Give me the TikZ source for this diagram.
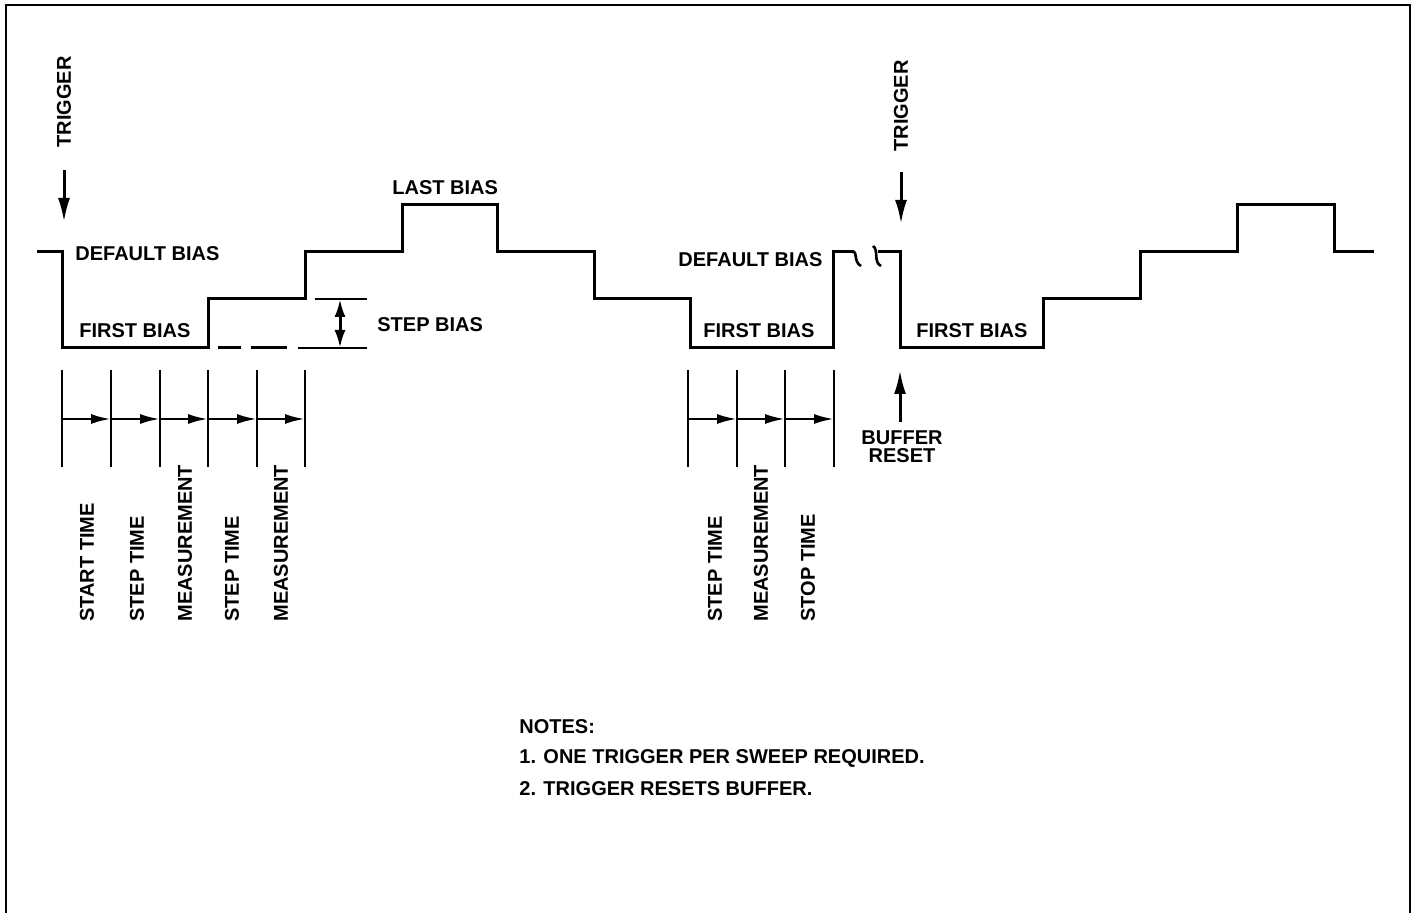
\documentclass[tikz,border=0pt]{standalone}
\usepackage{fontspec}
\setmainfont{Liberation Sans}
\usetikzlibrary{arrows.meta}
\begin{document}
\begin{tikzpicture}[x=0.5pt,y=-0.5pt,
  wave/.style={line width=1.5pt,line join=miter},
  tick/.style={line width=1.1pt},
  tl/.style={line width=1.3pt,-{Latex[length=10pt,width=5pt]}},
  trig/.style={line width=1.5pt,-{Latex[length=12pt,width=6pt]}},
  lbl/.style={font=\bfseries\fontsize{10}{11}\selectfont,inner sep=0pt},
  vlbl/.style={lbl,rotate=90,anchor=west},
  brk/.style={line width=1.3pt},
  frame/.style={line width=1pt}]
\useasboundingbox (0,0) rectangle (1417,913);
% frame
\draw[frame] (6,913) -- (6,5) -- (1410,5) -- (1410,913);
% waveform 1
\draw[wave] (37,252) -- (62,252) -- (62,348) -- (208,348) -- (208,299) -- (305,299)
  -- (305,252) -- (402,252) -- (402,205) -- (497,205) -- (497,252) -- (594,252)
  -- (594,299) -- (690,299) -- (690,348) -- (833,348) -- (833,252) -- (854,252);
% break symbol
\draw[brk] (852,252) .. controls (858,250) and (853,262) .. (861,266);
\draw[brk] (873,246) .. controls (879,250) and (873,262) .. (881,266);
\draw[wave] (878,252) -- (900,252) -- (900,348) -- (1043,348) -- (1043,299) -- (1140,299)
  -- (1140,252) -- (1237,252) -- (1237,205) -- (1334,205) -- (1334,252) -- (1374,252);
% labels on waveform
\node[lbl,anchor=west] (db1) at (75,254) {DEFAULT BIAS};
\node[lbl,anchor=west] (fb1) at (79,331) {FIRST BIAS};
\node[lbl,anchor=west] (lb) at (392,188) {LAST BIAS};
\node[lbl,anchor=west] (sb) at (377,325) {STEP BIAS};
\node[lbl,anchor=west] (db2) at (678,260) {DEFAULT BIAS};
\node[lbl,anchor=west] (fb2) at (703,331) {FIRST BIAS};
\node[lbl,anchor=west] (fb3) at (916,331) {FIRST BIAS};
% step bias marker
\draw[wave] (218,348) -- (241,348);
\draw[wave] (251,348) -- (287,348);
\draw[line width=1.3pt] (298,348) -- (367,348);
\draw[line width=1.3pt] (315,299) -- (367,299);
\coordinate (sbt) at (340,299);
\coordinate (sbb) at (340,348);
\draw[line width=1.5pt,{Latex[length=9pt,width=5.5pt]}-{Latex[length=9pt,width=5.5pt]}] (sbt) -- (sbb);
% triggers
\node[vlbl] (t1) at (64,148) {TRIGGER};
\coordinate (t1a) at (64,170);
\coordinate (t1b) at (64,222);
\draw[trig] (t1a) -- (t1b);
\node[vlbl] (t2) at (901,152) {TRIGGER};
\coordinate (t2a) at (901,172);
\coordinate (t2b) at (901,224);
\draw[trig] (t2a) -- (t2b);
% buffer reset
\coordinate (bra) at (900,422);
\coordinate (brb) at (900,370);
\draw[trig] (bra) -- (brb);
\node[lbl,align=center,font=\bfseries\fontsize{10}{9}\selectfont] (br) at (902,447) {BUFFER\\RESET};
% timeline 1
\foreach \x/\n in {62/a0,111/a1,160/a2,208/a3,257/a4,305/a5}{
  \coordinate (\n t) at (\x,370);
  \coordinate (\n m) at (\x,419);
  \coordinate (\n b) at (\x,467);
  \draw[tick] (\n t) -- (\n b);
}
\foreach \p/\q in {a0/a1,a1/a2,a2/a3,a3/a4,a4/a5}{\draw[tl] (\p m) -- (\q m);}
\node[vlbl] (l1) at (87,622) {START TIME};
\node[vlbl] (l2) at (137,622) {STEP TIME};
\node[vlbl] (l3) at (185,622) {MEASUREMENT};
\node[vlbl] (l4) at (232,622) {STEP TIME};
\node[vlbl] (l5) at (281,622) {MEASUREMENT};
% timeline 2
\foreach \x/\n in {688/b0,737/b1,785/b2,834/b3}{
  \coordinate (\n t) at (\x,370);
  \coordinate (\n m) at (\x,419);
  \coordinate (\n b) at (\x,467);
  \draw[tick] (\n t) -- (\n b);
}
\foreach \p/\q in {b0/b1,b1/b2,b2/b3}{\draw[tl] (\p m) -- (\q m);}
\node[vlbl] (m1) at (715,622) {STEP TIME};
\node[vlbl] (m2) at (761,622) {MEASUREMENT};
\node[vlbl] (m3) at (808,622) {STOP TIME};
% notes
\node[lbl,anchor=west] (n0) at (519,727) {NOTES:};
\node[lbl,anchor=west] (n1) at (519,758) {1. ONE TRIGGER PER SWEEP REQUIRED.};
\node[lbl,anchor=west] (n2) at (519,789) {2. TRIGGER RESETS BUFFER.};
\end{tikzpicture}
\end{document}
